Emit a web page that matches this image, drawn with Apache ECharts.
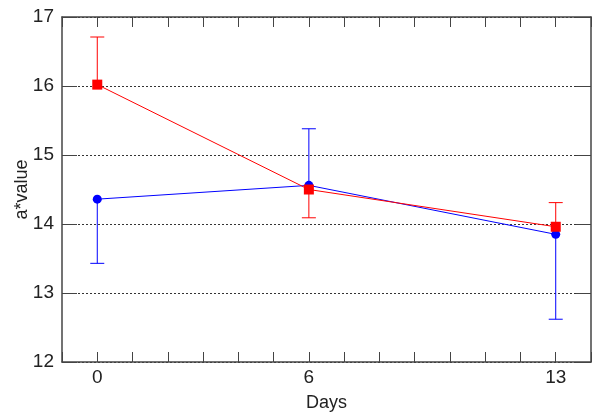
<!DOCTYPE html>
<html>
<head>
<meta charset="utf-8">
<script src="https://cdn.jsdelivr.net/npm/echarts@6/dist/echarts.min.js"></script>
<style>html,body{margin:0;padding:0;background:#fff}#c{width:594px;height:415px}</style>
</head>
<body>
<div id="c"></div>
<script>
var days = [0, 6, 13];
var xTickLabels = [0, 6, 13];
var yTickLabels = [12, 13, 14, 15, 16, 17];
var blueValues = [14.36, 14.56, 13.85];
var blueErrEnd = [13.43, 15.38, 12.62];
var redValues = [16.02, 14.50, 13.96];
var redErrEnd = [16.71, 14.09, 14.31];

var chart = echarts.init(document.getElementById('c'), null, {renderer: 'canvas'});
var FONT = 'Liberation Sans, Arial, sans-serif';

function errSeries(vals, ends, color) {
  var data = days.map(function (d, i) { return [d, vals[i], ends[i]]; });
  return {
    type: 'custom',
    silent: true,
    z: 3,
    data: data,
    renderItem: function (params, api) {
      var p0 = api.coord([api.value(0), api.value(1)]);
      var p1 = api.coord([api.value(0), api.value(2)]);
      var hw = 7;
      return {
        type: 'group',
        children: [
          {type: 'line', shape: {x1: p0[0], y1: p0[1], x2: p1[0], y2: p1[1]}, style: {stroke: color, lineWidth: 1}},
          {type: 'line', shape: {x1: p1[0] - hw, y1: p1[1], x2: p1[0] + hw, y2: p1[1]}, style: {stroke: color, lineWidth: 1}}
        ]
      };
    }
  };
}

var axisLineStyle = {color: '#444', width: 1.5};

chart.setOption({
  animation: false,
  grid: {left: 62, right: 3, top: 17, bottom: 53, containLabel: false, outerBoundsMode: 'none'},
  xAxis: [{
    type: 'value', min: -1, max: 14, interval: 1, position: 'bottom',
    name: 'Days', nameLocation: 'middle', nameGap: 32, nameMoveOverlap: false,
    nameTextStyle: {fontFamily: FONT, fontSize: 18, color: '#222'},
    axisLine: {show: true, onZero: false, lineStyle: axisLineStyle},
    axisTick: {show: true, inside: true, length: 10, lineStyle: {color: '#444'}},
    axisLabel: {
      margin: 6, fontFamily: FONT, fontSize: 19, color: '#222',
      formatter: function (v) { return xTickLabels.indexOf(v) >= 0 ? String(v) : ''; }
    },
    splitLine: {show: false}
  }, {
    type: 'value', min: -1, max: 14, interval: 1, position: 'top',
    axisLine: {show: true, onZero: false, lineStyle: axisLineStyle},
    axisTick: {show: true, inside: true, length: 10, lineStyle: {color: '#444'}},
    axisLabel: {show: false},
    splitLine: {show: false}
  }],
  yAxis: [{
    type: 'value', min: 12, max: 17, interval: 1, position: 'left',
    name: 'a*value', nameLocation: 'middle', nameGap: 31, nameMoveOverlap: false,
    nameTextStyle: {fontFamily: FONT, fontSize: 18, color: '#222'},
    axisLine: {show: true, onZero: false, lineStyle: axisLineStyle},
    axisTick: {show: true, inside: true, length: 15, lineStyle: {color: '#444'}},
    axisLabel: {
      margin: 8, fontFamily: FONT, fontSize: 19, color: '#222',
      formatter: function (v) { return yTickLabels.indexOf(v) >= 0 ? String(v) : ''; }
    },
    splitLine: {show: true, lineStyle: {color: '#333', type: [2, 2], width: 1}}
  }, {
    type: 'value', min: 12, max: 17, interval: 1, position: 'right',
    axisLine: {show: true, onZero: false, lineStyle: axisLineStyle},
    axisTick: {show: true, inside: true, length: 15, lineStyle: {color: '#444'}},
    axisLabel: {show: false},
    splitLine: {show: false}
  }],
  series: [
    errSeries(blueValues, blueErrEnd, '#0000ff'),
    {
      type: 'line', z: 4,
      data: days.map(function (d, i) { return [d, blueValues[i]]; }),
      symbol: 'circle', symbolSize: 9,
      lineStyle: {color: '#0000ff', width: 1},
      itemStyle: {color: '#0000ff'}
    },
    errSeries(redValues, redErrEnd, '#ff0000'),
    {
      type: 'line', z: 5,
      data: days.map(function (d, i) { return [d, redValues[i]]; }),
      symbol: 'rect', symbolSize: 10,
      lineStyle: {color: '#ff0000', width: 1},
      itemStyle: {color: '#ff0000'}
    }
  ]
});
</script>
</body>
</html>
